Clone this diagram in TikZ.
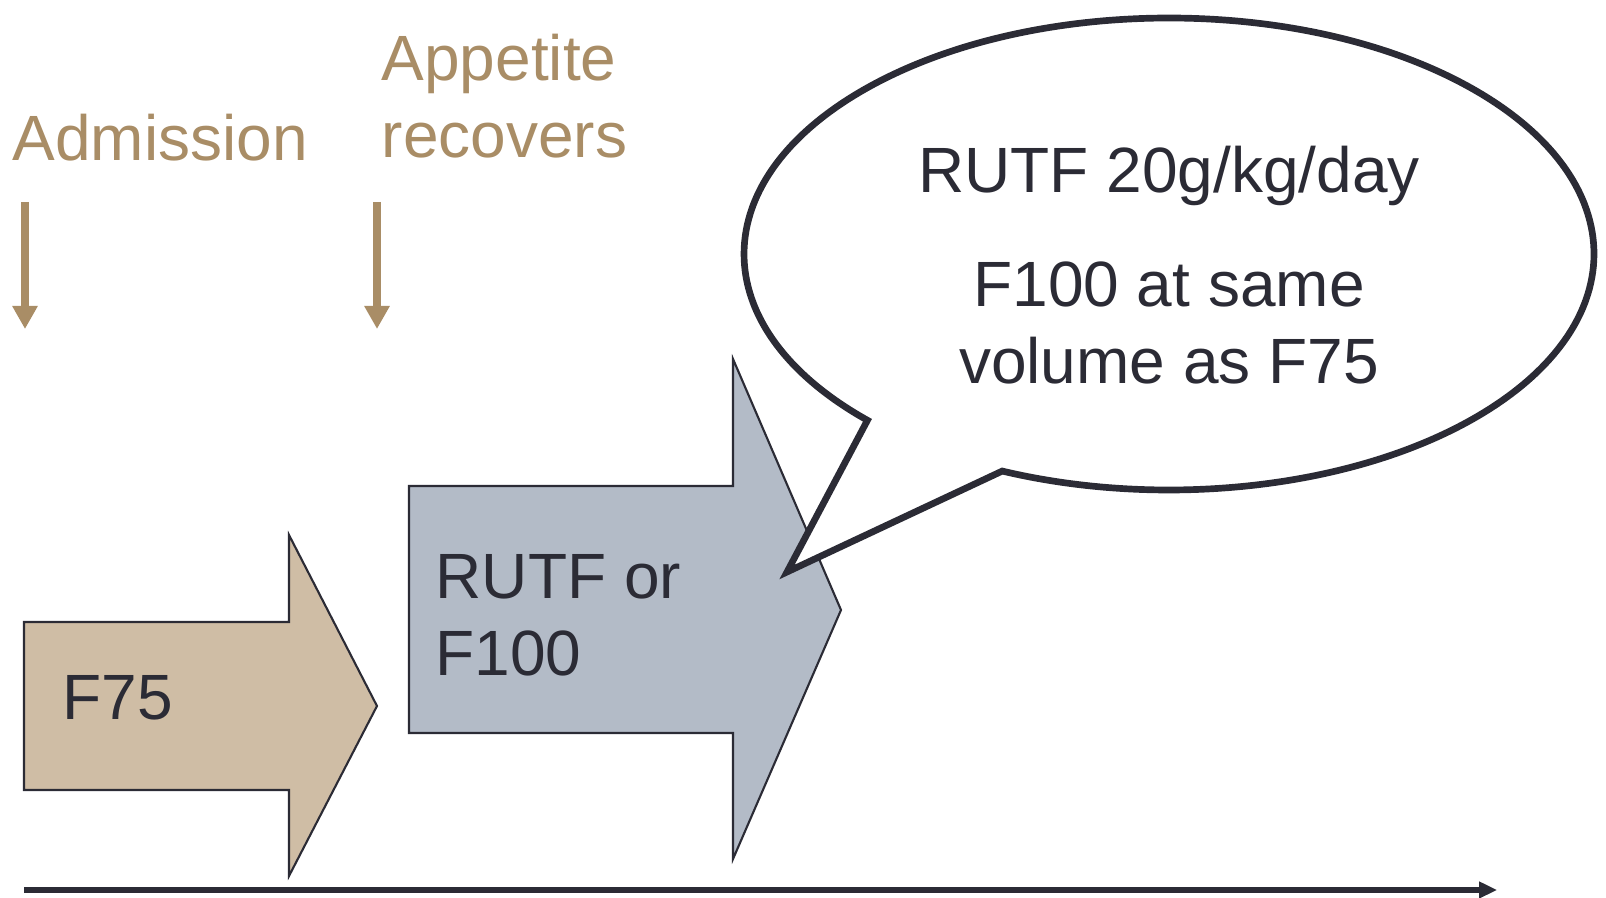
\documentclass[tikz,border=0pt]{standalone}
\usepackage{fontspec}
\setmainfont{Liberation Sans}
\usetikzlibrary{arrows.meta,calc,positioning}
\definecolor{ink}{RGB}{43,43,53}
\definecolor{tan}{RGB}{169,141,102}
\definecolor{sand}{RGB}{207,189,165}
\definecolor{slate}{RGB}{179,187,199}

\begin{document}
\begin{tikzpicture}[x=0.01cm,y=-0.01cm]
    \tikzstyle{txt}=[inner sep=0pt,text=ink,font=\fontsize{18.2}{21.9}\selectfont]

    \tikzstyle{event}=[txt,text=tan,align=left,anchor=base west]
    \tikzstyle{cue}=[draw=tan,line width=2pt,-{Triangle[length=0.23cm,width=0.24cm]}]
    \tikzstyle{phase}=[draw=ink,line width=0.6pt]
    \tikzstyle{bubble}=[draw=ink,fill=white,line width=1.9pt]

    \useasboundingbox (0,0) rectangle (1606,898);

    \draw[phase,fill=sand] (24,622) -- (289,622) -- (289,535) -- (377,706)
        -- (289,876) -- (289,790) -- (24,790) -- cycle;
    \draw[phase,fill=slate] (409,486) -- (733,486) -- (733,359) -- (841,610)
        -- (733,859) -- (733,733) -- (409,733) -- cycle;

    \node[txt,anchor=base west](f75) at (62,720){F75};
    \node[txt,anchor=base west,align=left](rutf_f100) at (435,676){RUTF or\\F100};

    \coordinate (bubble_c) at (1169,254);
    \coordinate (tail_tip) at (787,572);
    \draw[bubble] ($(bubble_c)+(135.2:425 and 236)$)
        arc[start angle=135.2,end angle=473.1,x radius=425,y radius=236]
        -- (tail_tip) -- cycle;
    \node[txt,anchor=base](rutf_dose) at (1169,193){RUTF 20g/kg/day};
    \node[txt,anchor=base,align=center](f100_dose) at (1169,384){F100 at same\\volume as F75};

    \node[event](admission) at (12,161){Admission};
    \node[event](appetite) at (381,158){Appetite\\recovers};

    \coordinate (admission_top) at (25,202);
    \coordinate (admission_end) at (25,329);
    \coordinate (appetite_top) at (377,202);
    \coordinate (appetite_end) at (377,329);
    \draw[cue] (admission_top) -- (admission_end);
    \draw[cue] (appetite_top) -- (appetite_end);

    \coordinate (time_start) at (24,890);
    \coordinate (time_end) at (1497,890);
    \draw[ink,line width=1.7pt,-{Triangle[length=0.18cm,width=0.16cm]}] (time_start) -- (time_end);
\end{tikzpicture}
\end{document}
